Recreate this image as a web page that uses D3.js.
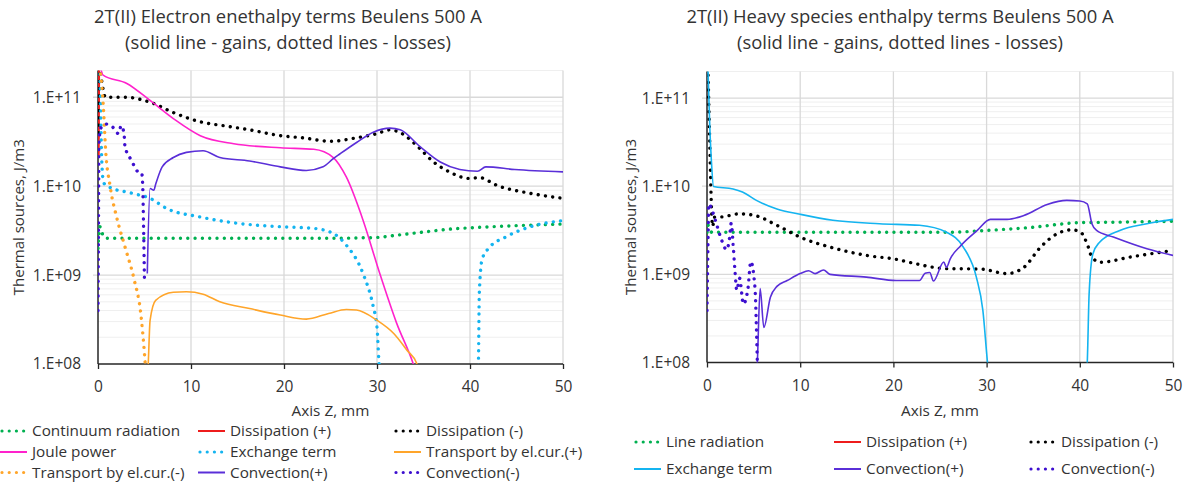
<!DOCTYPE html>
<html><head><meta charset="utf-8">
<script src="https://cdn.jsdelivr.net/npm/d3@7"></script>
<style>
html,body{margin:0;padding:0;background:#fff;}
svg{display:block;font-family:"Open Sans",sans-serif;}
</style></head>
<body>
<svg id="c" width="1187" height="483"></svg>
<script>
// ---------------- DATA ----------------
const titlesLeft = ["2T(II) Electron enethalpy terms Beulens 500 A", "(solid line - gains, dotted lines - losses)"];
const titlesRight = ["2T(II) Heavy species enthalpy terms Beulens 500 A", "(solid line - gains, dotted lines - losses)"];
const xTicks = [0, 10, 20, 30, 40, 50];
const yTicks = [1e8, 1e9, 1e10, 1e11];
const yTickLabels = ["1.E+08", "1.E+09", "1.E+10", "1.E+11"];
const xTitle = "Axis Z, mm";
const yTitle = "Thermal sources, J/m3";

// Left chart (electron) series: [z mm, J/m3]
const L_continuumRad = [[0,2.0e9],[0.2,3.5e9],[0.6,2.7e9],[1,2.6e9],[10,2.6e9],[20,2.6e9],[26,2.6e9],[28,2.62e9],[30,2.65e9],[32,2.8e9],[35,3.05e9],[38,3.3e9],[40,3.4e9],[45,3.6e9],[50,3.75e9]];
const L_dissPlus = [[0.05,2.2e10],[0.1,3e11]];
const L_dissMinus = [[0.05,4e10],[0.1,1e11],[0.2,2e11],[0.5,1.3e11],[0.8,1e11],[3,1e11],[4.5,9.5e10],[6,8.5e10],[8,6.8e10],[11,5.3e10],[14,4.7e10],[16.3,4.3e10],[19.6,3.7e10],[22,3.5e10],[25,3.2e10],[27.8,3.5e10],[30,3.9e10],[31.4,4.3e10],[32.5,4e10],[34.6,2.65e10],[36,1.9e10],[37.5,1.5e10],[40,1.22e10],[41,1.25e10],[42.9,1.02e10],[46.5,8.3e9],[50,7.3e9]];
const L_joule = [[0.2,2.3e11],[0.55,1.77e11],[3.1,1.43e11],[5.6,9.2e10],[8.1,5.76e10],[11,3.7e10],[14.6,3.0e10],[19.6,2.7e10],[23.2,2.6e10],[25.3,2.1e10],[26.7,1.27e10],[28.5,4.15e9],[30.3,1.04e9],[32.1,2.9e8],[33.9,1.0e8],[34.2,8e7]];
const L_exchange = [[0.2,2.2e11],[0.3,6e10],[0.4,2e10],[0.6,1.1e10],[1,1e10],[3.7,8.3e9],[5.6,7.3e9],[7.4,5.6e9],[11,4.5e9],[14.6,3.87e9],[19.6,3.5e9],[23.2,3.35e9],[25.3,2.94e9],[26.7,2.17e9],[28.5,1.04e9],[29.6,4.4e8],[30,2.6e8],[30.2,1.1e8],[30.3,8e7]];
const L_exchange2 = [[40.8,8e7],[40.9,1e8],[41,6.2e8],[41.3,1.5e9],[42,2e9],[43.9,2.7e9],[46.5,3.5e9],[50,4.1e9]];
const L_transPlus = [[5.35,8e7],[5.4,1e8],[5.6,3.1e8],[6.2,5.2e8],[8.1,6.4e8],[9.5,6.5e8],[11.3,6.1e8],[13.1,5.0e8],[16.3,4.2e8],[19.6,3.55e8],[22.4,3.2e8],[24.8,3.7e8],[26.7,4.1e8],[27.8,4.05e8],[30,3.1e8],[31.8,2.2e8],[33.2,1.44e8],[34.3,1.0e8],[34.5,8e7]];
const L_transMinus = [[0.2,2.2e11],[0.6,7.1e10],[0.8,2.75e10],[1.3,1e10],[2,4.5e9],[2.9,2.08e9],[3.9,8.8e8],[4.6,3.7e8],[5,1.3e8],[5.15,8e7]];
const L_convPlus = [[5.3,1.04e9],[5.6,9.4e9],[6.0,9e9],[6.2,1.05e10],[6.9,1.65e10],[8.1,2.1e10],[9.5,2.4e10],[11.3,2.5e10],[13.1,2.1e10],[16.3,1.92e10],[19.6,1.65e10],[22.4,1.5e10],[24.2,1.65e10],[25.3,2.04e10],[26,2.3e10],[27.8,3.1e10],[29.6,4.05e10],[31.4,4.5e10],[32.5,4.3e10],[34.6,2.8e10],[36.8,1.87e10],[38.9,1.54e10],[40.8,1.47e10],[41.7,1.65e10],[44.8,1.54e10],[50,1.45e10]];
const L_convMinus = [[0,4e8],[0.05,3e9],[0.1,3e10],[0.3,4.5e10],[0.8,5e10],[1.6,4.6e10],[2.2,3.9e10],[2.5,4.8e10],[2.8,3.9e10],[2.9,2.8e10],[3.6,1.95e10],[4.3,1.45e10],[4.7,1.4e10],[4.8,1.07e10],[4.9,3.5e9],[5.0,8.1e8]];

// Right chart (heavy species) series
const R_lineRad = [[0,3.0e9],[0.1,3.6e9],[0.5,3.0e9],[10,3.0e9],[18.5,3.0e9],[25.7,3.0e9],[30,3.15e9],[34.7,3.4e9],[40,3.86e9],[43.5,3.9e9],[50,4.0e9]];
const R_dissPlus = [];
const R_dissMinus = [[0.1,2.2e11],[0.3,3e10],[0.5,5e9],[0.6,3.5e9],[0.8,4.45e9],[1.7,4.5e9],[3.5,4.86e9],[5.3,4.6e9],[7.5,3.6e9],[10,2.64e9],[13.5,2.0e9],[17.1,1.64e9],[20.3,1.48e9],[22.1,1.34e9],[25.7,1.16e9],[29.3,1.15e9],[32.2,1.02e9],[34,1.2e9],[35.8,2.04e9],[37.6,2.9e9],[39.2,3.2e9],[40.1,3.0e9],[40.8,2.2e9],[41.3,1.57e9],[42.2,1.37e9],[45.4,1.57e9],[50,1.87e9]];
const R_exchange = [[0.1,2.2e11],[0.3,4.66e10],[0.47,1.95e10],[0.7,9.9e9],[2.8,9.3e9],[3.8,8.6e9],[5.3,6.9e9],[7.5,5.5e9],[10,4.8e9],[13.5,4.1e9],[18.5,3.75e9],[22.8,3.6e9],[25.7,3.0e9],[27.5,2.04e9],[28.9,9.3e8],[29.6,3.9e8],[30.1,1.0e8],[30.2,8e7]];
const R_exchange2 = [[40.75,8e7],[40.8,1e8],[41,6e8],[41.4,1.7e9],[42.1,2.3e9],[44.3,3.15e9],[47.2,3.75e9],[50,4.2e9]];
const R_convPlus = [[5.35,8e7],[5.4,1e8],[5.7,6.9e8],[6.1,2.5e8],[6.8,5.5e8],[7.5,7.3e8],[8.6,8.5e8],[10,1.02e9],[10.9,1.1e9],[11.6,1.02e9],[12.5,1.12e9],[13.2,1.0e9],[17.1,9.3e8],[20.3,8.5e8],[22.8,8.5e8],[23.4,1.03e9],[23.9,1.05e9],[24.3,8.4e8],[25.4,1.38e9],[25.7,1.2e9],[26.1,1.5e9],[27.2,2.1e9],[29,3.15e9],[30.4,4.2e9],[32.2,4.2e9],[34,4.65e9],[36.5,6.2e9],[38.6,6.9e9],[40,6.8e9],[40.8,6.3e9],[41.3,3.75e9],[41.8,3.15e9],[43.6,2.65e9],[47.2,1.95e9],[50,1.64e9]];
const R_convMinus = [[0,3.9e8],[0.1,2e9],[0.2,6.3e9],[0.5,5.5e9],[0.9,4.1e9],[1.6,2.4e9],[2.1,1.9e9],[2.4,2.5e9],[2.6,3.8e9],[2.8,2.2e9],[3.0,1.1e9],[3.2,6.6e8],[3.5,9e8],[3.9,4.6e8],[4.4,7e8],[4.7,1.4e9],[5.0,1e9],[5.2,5.5e8],[5.3,2.5e8],[5.4,1e8]];

// Legend labels
const leftLegendLabels = ["Continuum radiation","Dissipation (+)","Dissipation (-)","Joule power","Exchange term","Transport by el.cur.(+)","Transport by el.cur.(-)","Convection(+)","Convection(-)"];
const rightLegendLabels = ["Line radiation","Dissipation (+)","Dissipation (-)","Exchange term","Convection(+)","Convection(-)"];

// ---------------- STYLES ----------------
const C = {green:"#00b050", red:"#ee1c1c", black:"#000000", magenta:"#ff22cc", blue:"#14b4f0", orange:"#ffa52a", convP:"#5a2fd8", convM:"#3d0fcf"};

const leftSeries = [
  {label:leftLegendLabels[0], data:[L_continuumRad], color:C.green, dotted:true},
  {label:leftLegendLabels[1], data:[L_dissPlus], color:C.red, dotted:false, width:2.5},
  {label:leftLegendLabels[2], data:[L_dissMinus], color:C.black, dotted:true},
  {label:leftLegendLabels[3], data:[L_joule], color:C.magenta, dotted:false},
  {label:leftLegendLabels[4], data:[L_exchange, L_exchange2], color:C.blue, dotted:true},
  {label:leftLegendLabels[5], data:[L_transPlus], color:C.orange, dotted:false},
  {label:leftLegendLabels[6], data:[L_transMinus], color:C.orange, dotted:true},
  {label:leftLegendLabels[7], data:[L_convPlus], color:C.convP, dotted:false},
  {label:leftLegendLabels[8], data:[L_convMinus], color:C.convM, dotted:true}
];
const rightSeries = [
  {label:rightLegendLabels[0], data:[R_lineRad], color:C.green, dotted:true},
  {label:rightLegendLabels[1], data:[R_dissPlus], color:C.red, dotted:false},
  {label:rightLegendLabels[2], data:[R_dissMinus], color:C.black, dotted:true},
  {label:rightLegendLabels[3], data:[R_exchange, R_exchange2], color:C.blue, dotted:false},
  {label:rightLegendLabels[4], data:[R_convPlus], color:C.convP, dotted:false},
  {label:rightLegendLabels[5], data:[R_convMinus], color:C.convM, dotted:true}
];
const svg = d3.select("#c");
const TXT = "#333333";

function drawChart(cfg, series) {
  const g = svg.append("g");
  const x = d3.scaleLinear().domain([0, 50]).range([cfg.x0, cfg.x1]);
  const y = d3.scaleLog().domain([1e8, 2e11]).range([cfg.y0, cfg.y1]);
  const id = "clip" + cfg.key;
  svg.append("clipPath").attr("id", id).append("rect")
     .attr("x", cfg.x0).attr("y", cfg.y1).attr("width", cfg.x1 - cfg.x0).attr("height", cfg.y0 - cfg.y1);

  // minor gridlines
  const minor = [];
  for (let e = 8; e <= 11; e++) for (let m = 2; m <= 9; m++) { const v = m * Math.pow(10, e); if (v <= 2e11) minor.push(v); }
  g.append("g").selectAll("line").data(minor).join("line")
    .attr("x1", cfg.x0).attr("x2", cfg.x1).attr("y1", d => y(d)).attr("y2", d => y(d))
    .attr("stroke", "#efefef").attr("stroke-width", 1);
  // major horizontal gridlines
  g.append("g").selectAll("line").data(yTicks.slice(1)).join("line")
    .attr("x1", cfg.x0 - 5).attr("x2", cfg.x1).attr("y1", d => y(d)).attr("y2", d => y(d))
    .attr("stroke", "#d9d9d9").attr("stroke-width", 1.3);
  // vertical gridlines
  g.append("g").selectAll("line").data(xTicks.slice(1)).join("line")
    .attr("x1", d => x(d)).attr("x2", d => x(d)).attr("y1", cfg.y1).attr("y2", cfg.y0)
    .attr("stroke", "#d9d9d9").attr("stroke-width", 1.3);

  // axes
  const xa = g.append("g").attr("transform", `translate(0,${cfg.y0})`)
    .call(d3.axisBottom(x).tickValues(xTicks).tickSize(5).tickPadding(12).tickFormat(d3.format("d")));
  xa.select(".domain").attr("stroke", "#262626").attr("stroke-width", 1.5).attr("d", `M${cfg.x0},0H${cfg.x1}`);
  xa.selectAll(".tick line").attr("stroke", "#262626").attr("stroke-width", 1.3);
  xa.selectAll("text").attr("font-size", "15.5px").attr("fill", TXT).attr("font-family", "Open Sans");

  const ya = g.append("g").attr("transform", `translate(${cfg.x0},0)`)
    .call(d3.axisLeft(y).tickValues(yTicks).tickSize(0).tickPadding(17).tickFormat((d, i) => yTickLabels[i]));
  ya.select(".domain").attr("stroke", "#262626").attr("stroke-width", 1.5).attr("d", `M0,${cfg.y0}V${cfg.y1}`);
  ya.selectAll("text").attr("font-size", "15.5px").attr("fill", TXT).attr("font-family", "Open Sans");

  // series
  const line = d3.line().x(d => x(d[0])).y(d => y(d[1])).curve(d3.curveMonotoneX);
  const sg = g.append("g").attr("clip-path", `url(#${id})`);
  series.forEach(s => {
    s.data.forEach(arr => {
      if (!arr.length) return;
      sg.append("path").attr("d", line(arr)).attr("fill", "none")
        .attr("stroke", s.color)
        .attr("stroke-width", s.dotted ? 3.4 : (s.width || 1.6))
        .attr("stroke-linecap", s.dotted ? "round" : "butt")
        .attr("stroke-linejoin", "round")
        .attr("stroke-dasharray", s.dotted ? "0.01 7.3" : null);
    });
  });

  // titles
  cfg.title.forEach((t, i) => {
    g.append("text").attr("x", cfg.titleX).attr("y", cfg.titleY[i]).attr("text-anchor", "middle")
      .attr("font-size", "18.4px").attr("fill", TXT).text(t);
  });
  g.append("text").attr("x", (cfg.x0 + cfg.x1) / 2).attr("y", cfg.xTitleY).attr("text-anchor", "middle")
    .attr("font-size", "15.3px").attr("fill", TXT).text(xTitle);
  g.append("text").attr("transform", `translate(${cfg.yTitleX},${(cfg.y0 + cfg.y1) / 2}) rotate(-90)`)
    .attr("text-anchor", "middle").attr("font-size", "15px").attr("fill", TXT).text(yTitle);

  // legend
  series.forEach((s, i) => {
    const col = i % 3, row = Math.floor(i / 3);
    const lx = cfg.legCols[col], ly = cfg.legRows[row];
    const lg = g.append("g");
    if (s.dotted) {
      lg.append("line").attr("x1", lx + 2).attr("x2", lx + 25).attr("y1", ly).attr("y2", ly)
        .attr("stroke", s.color).attr("stroke-width", 3.2).attr("stroke-linecap", "round").attr("stroke-dasharray", "0.01 7.2");
    } else {
      lg.append("line").attr("x1", lx).attr("x2", lx + 27).attr("y1", ly).attr("y2", ly)
        .attr("stroke", s.color).attr("stroke-width", 2);
    }
    lg.append("text").attr("x", lx + cfg.legTextDx).attr("y", ly).attr("dy", "0.35em")
      .attr("font-size", "15.3px").attr("fill", TXT).text(s.label);
  });
}

drawChart({key:"L", x0:98, x1:563, y0:364, y1:70.5, title:titlesLeft, titleX:288, titleY:[23, 49],
  xTitleY:416, yTitleX:24, legCols:[0, 198, 394], legRows:[431, 452, 472.5], legTextDx:32}, leftSeries);
drawChart({key:"R", x0:707, x1:1173, y0:362.5, y1:71.5, title:titlesRight, titleX:900, titleY:[23, 49],
  xTitleY:416, yTitleX:636, legCols:[634, 834, 1029], legRows:[442, 469], legTextDx:32}, rightSeries);
</script>
</body></html>
